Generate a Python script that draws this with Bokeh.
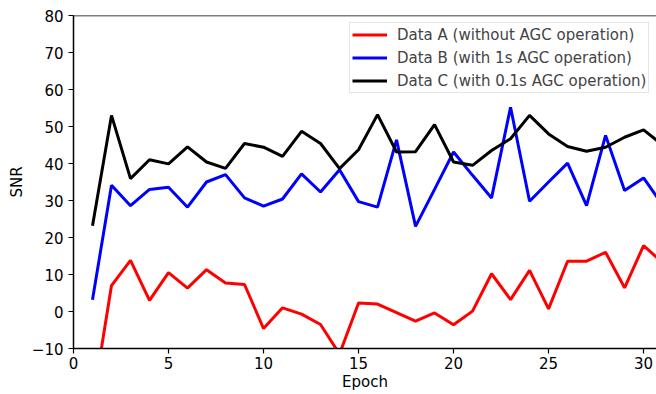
from bokeh.plotting import figure
from bokeh.models import Range1d, FixedTicker, Span, Legend, LegendItem
from bokeh.embed import file_html
from bokeh.resources import INLINE

# SNR per training epoch for the three AGC settings
epochs = list(range(1, 32))
snr_a = [-25.0, 7.0, 13.8, 3.0, 10.5, 6.3, 11.3, 7.7, 7.3, -4.6, 1.0, -0.7, -3.5, -11.5,
         2.3, 2.0, -0.3, -2.6, -0.4, -3.6, 0.1, 10.2, 3.2, 11.1, 0.7, 13.6, 13.6, 16.0,
         6.4, 17.8, 13.2]
snr_b = [3.2, 34.1, 28.6, 33.0, 33.6, 28.2, 35.0, 37.0, 30.7, 28.5, 30.4, 37.2, 32.3, 38.3,
         29.7, 28.2, 46.4, 23.0, 33.0, 43.1, 36.8, 30.7, 55.2, 29.8, 35.0, 40.1, 28.6, 47.6,
         32.7, 36.1, 28.8]
snr_c = [23.2, 53.0, 35.9, 41.0, 39.9, 44.5, 40.4, 38.7, 45.4, 44.4, 41.9, 48.7, 45.4, 38.6,
         43.7, 53.2, 43.1, 43.2, 50.5, 40.4, 39.5, 43.5, 46.7, 53.0, 48.0, 44.6, 43.3, 44.4,
         47.1, 49.1, 45.0]

series_labels = ["Data A (without AGC operation)",
                 "Data B (with 1s AGC operation)",
                 "Data C (with 0.1s AGC operation)"]
series_colors = ["#ff0000", "#0000ff", "#000000"]

x_ticks = [0, 5, 10, 15, 20, 25, 30]
y_ticks = [-10, 0, 10, 20, 30, 40, 50, 60, 70, 80]

FONT = "DejaVu Sans"
FS = "15px"

p = figure(width=656, height=394, output_backend="svg", toolbar_location=None,
           x_range=Range1d(0, 30.68), y_range=Range1d(-10, 80),
           min_border_left=73, min_border_right=0, min_border_top=15, min_border_bottom=46)
p.outline_line_color = None
p.background_fill_color = "white"
p.border_fill_color = "white"
p.grid.visible = False

renderers = []
for ys, c in zip([snr_a, snr_b, snr_c], series_colors):
    r = p.line(epochs, ys, line_color=c, line_width=3)
    renderers.append(r)

# top spine
p.add_layout(Span(location=80, dimension="width", line_color="black", line_width=1.5))

for ax in (p.xaxis[0], p.yaxis[0]):
    ax.axis_line_color = "black"
    ax.axis_line_width = 1.5
    ax.major_tick_out = 5
    ax.major_tick_in = 0
    ax.major_tick_line_width = 1.2
    ax.minor_tick_line_color = None
    ax.major_label_text_font = FONT
    ax.major_label_text_font_size = FS
    ax.major_label_text_color = "black"
    ax.axis_label_text_font = FONT
    ax.axis_label_text_font_size = FS
    ax.axis_label_text_font_style = "normal"
    ax.axis_label_text_color = "black"

p.xaxis.ticker = FixedTicker(ticks=x_ticks)
p.yaxis.ticker = FixedTicker(ticks=y_ticks)
p.yaxis.major_label_overrides = {t: (f"\u2212{abs(t)}" if t < 0 else str(t)) for t in y_ticks}
p.xaxis.axis_label = "Epoch"
p.yaxis.axis_label = "SNR"
p.xaxis.major_label_standoff = 3
p.yaxis.major_label_standoff = 5
p.xaxis.axis_label_standoff = 1
p.yaxis.axis_label_standoff = 3

legend = Legend(items=[LegendItem(label=l, renderers=[r]) for l, r in zip(series_labels, renderers)],
                location=(276, 255))
legend.label_text_font = FONT
legend.label_text_font_size = FS
legend.glyph_width = 35
legend.glyph_height = 19
legend.label_height = 19
legend.label_standoff = 10
legend.spacing = 4
legend.padding = 2
legend.margin = 0
legend.border_line_color = "#cccccc"
legend.border_line_width = 1
legend.background_fill_alpha = 0.8
p.add_layout(legend)

open("out.html", "w").write(file_html(p, INLINE))
